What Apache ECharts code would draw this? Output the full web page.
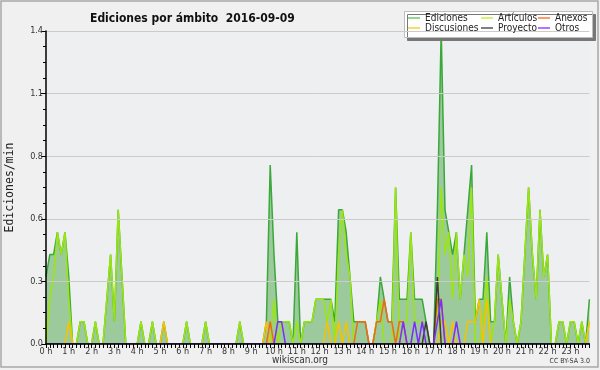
<!DOCTYPE html>
<html><head><meta charset="utf-8">
<script src="https://cdn.jsdelivr.net/npm/echarts@6/dist/echarts.min.js"></script>
<style>html,body{margin:0;padding:0;background:#f0f0f0}#c{width:600px;height:370px}</style>
</head><body><div id="c"></div>
<script>
// 10-minute bins, 6 per hour
const hourLabels = ['0 h','1 h','2 h','3 h','4 h','5 h','6 h','7 h','8 h','9 h','10 h','11 h',
  '12 h','13 h','14 h','15 h','16 h','17 h','18 h','19 h','20 h','21 h','22 h','23 h'];
const yTicks = [0, 0.28, 0.56, 0.84, 1.12, 1.4];

const ediciones = [
  0.3,0.4,0.4,0.5,0.4,0.5,  0.3,0,0,0.1,0.1,0,  0,0.1,0,0,0.2,0.4,  0.1,0.6,0.3,0,0,0,
  0,0.1,0,0,0.1,0,  0,0.1,0,0,0,0,  0,0.1,0,0,0,0,  0.1,0,0,0,0,0,
  0,0,0,0.1,0,0,  0,0,0,0,0.1,0.8,  0.4,0.1,0.1,0.1,0.1,0,  0.5,0,0.1,0.1,0.1,0.2,
  0.2,0.2,0.2,0.2,0.1,0.6,  0.6,0.5,0.3,0.1,0.1,0.1,  0.1,0,0,0.1,0.3,0.2,  0.1,0.1,0.7,0.2,0.2,0.2,
  0.5,0.2,0.2,0.2,0.1,0,  0,0.6,1.4,0.6,0.5,0.4,  0.5,0.2,0.4,0.6,0.8,0.1,  0.2,0.2,0.5,0.1,0.1,0.4,
  0.2,0,0.3,0.1,0,0.1,  0.4,0.7,0.4,0.2,0.6,0.3,  0.4,0,0,0.1,0.1,0,  0.1,0.1,0,0.1,0,0.2
];
const articulos = [
  0,0.2,0.3,0.5,0.4,0.5,  0.2,0,0,0.1,0.1,0,  0,0.1,0,0,0.2,0.4,  0.1,0.6,0.3,0,0,0,
  0,0.1,0,0,0.1,0,  0,0,0,0,0,0,  0,0.1,0,0,0,0,  0.1,0,0,0,0,0,
  0,0,0,0.1,0,0,  0,0,0,0,0,0,  0.2,0,0.1,0.1,0.1,0,  0.1,0,0.1,0.1,0.1,0.2,
  0.2,0.2,0.1,0.2,0,0.4,  0.6,0.4,0.3,0,0,0,  0,0,0,0.1,0.2,0,  0,0,0.7,0,0.1,0.1,
  0.5,0.1,0.1,0.1,0,0,  0,0.1,0.7,0.4,0.5,0.2,  0.5,0.2,0.4,0.3,0.7,0,  0,0.1,0.3,0,0.1,0.4,
  0.2,0,0.2,0.1,0,0.1,  0.4,0.7,0.4,0.2,0.6,0.3,  0.4,0,0,0.1,0.1,0,  0.1,0.1,0,0.1,0,0.1
];
const discusiones = [
  0,0,0,0,0,0,  0.1,0,0,0,0,0,  0,0,0,0,0,0,  0,0,0,0,0,0,
  0,0,0,0,0,0,  0,0.1,0,0,0,0,  0,0,0,0,0,0,  0,0,0,0,0,0,
  0,0,0,0,0,0,  0,0,0,0,0.1,0,  0,0,0,0,0,0,  0,0,0,0,0,0,
  0,0,0.1,0,0,0.1,  0,0.1,0,0,0,0,  0,0,0,0,0,0,  0,0,0,0,0,0,
  0,0,0,0,0,0,  0,0,0.1,0.1,0,0.1,  0,0,0,0.1,0.1,0.1,  0.2,0,0.2,0,0,0,
  0,0,0,0,0,0,  0,0,0,0,0,0,  0,0,0,0,0,0,  0,0,0,0,0,0.1
];
const anexos = [
  0,0,0,0,0,0,  0,0,0,0,0,0,  0,0,0,0,0,0,  0,0,0,0,0,0,
  0,0,0,0,0,0,  0,0,0,0,0,0,  0,0,0,0,0,0,  0,0,0,0,0,0,
  0,0,0,0,0,0,  0,0,0,0,0,0.1,  0,0,0,0,0,0,  0,0,0,0,0,0,
  0,0,0,0,0,0,  0,0,0,0,0.1,0.1,  0.1,0,0,0.1,0.1,0.2,  0.1,0.1,0,0.1,0.1,0,
  0,0,0,0,0,0,  0,0.2,0.2,0,0,0,  0,0,0,0,0,0,  0,0,0,0,0,0,
  0,0,0,0,0,0,  0,0,0,0,0,0,  0,0,0,0,0,0,  0,0,0,0,0,0
];
const proyecto = [
  0,0,0,0,0,0,  0,0,0,0,0,0,  0,0,0,0,0,0,  0,0,0,0,0,0,
  0,0,0,0,0,0,  0,0,0,0,0,0,  0,0,0,0,0,0,  0,0,0,0,0,0,
  0,0,0,0,0,0,  0,0,0,0,0,0,  0,0,0,0,0,0,  0,0,0,0,0,0,
  0,0,0,0,0,0,  0,0,0,0,0,0,  0,0,0,0,0,0,  0,0,0,0,0,0,
  0,0,0,0,0.1,0,  0,0.3,0,0,0,0,  0,0,0,0,0,0,  0,0,0,0,0,0,
  0,0,0,0,0,0,  0,0,0,0,0,0,  0,0,0,0,0,0,  0,0,0,0,0,0
];
const otros = [
  0,0,0,0,0,0,  0,0,0,0,0,0,  0,0,0,0,0,0,  0,0,0,0,0,0,
  0,0,0,0,0,0,  0,0,0,0,0,0,  0,0,0,0,0,0,  0,0,0,0,0,0,
  0,0,0,0,0,0,  0,0,0,0,0,0,  0,0.1,0.1,0,0,0,  0,0,0,0,0,0,
  0,0,0,0,0,0,  0,0,0,0,0,0,  0,0,0,0,0,0,  0,0,0,0,0.1,0,
  0,0.1,0,0.1,0,0,  0,0.1,0.2,0,0,0,  0.1,0,0,0,0,0,  0,0,0,0,0,0,
  0,0,0,0,0,0,  0,0,0,0,0,0,  0,0,0,0,0,0,  0,0,0,0,0,0
];

const categories = ediciones.map((_, i) => i * 10);

const FONT = "'DejaVu Sans Condensed','Liberation Sans Narrow','DejaVu Sans',sans-serif";
const series = [
  {name:'Ediciones', data:ediciones, color:'#3aa83a', legendColor:'#6cc86c', area:true},
  {name:'Artículos', data:articulos, color:'#9be60f', legendColor:'#c4f03a'},
  {name:'Discusiones', data:discusiones, color:'#f7c200', legendColor:'#ffcc33'},
  {name:'Anexos', data:anexos, color:'#f26a10', legendColor:'#ff7a33'},
  {name:'Proyecto', data:proyecto, color:'#3c3c3c', legendColor:'#555555'},
  {name:'Otros', data:otros, color:'#7f2cff', legendColor:'#9a44ff'}
];
const legendSlots = {
  'Ediciones':[408,13], 'Artículos':[481,13], 'Anexos':[538,13],
  'Discusiones':[408,23], 'Proyecto':[481,23], 'Otros':[538,23]
};

const chart = echarts.init(document.getElementById('c'), null, {renderer:'canvas'});
chart.setOption({
  backgroundColor:'#f0f0f0',
  animation:false,
  title:{text:'Ediciones por ámbito  2016-09-09', left:85, top:8,
    textStyle:{fontFamily:FONT, fontWeight:'bold', fontSize:12, color:'#111'}},
  legend: series.map(s => ({
    data:[{name:s.name, itemStyle:{color:s.legendColor}}],
    left:legendSlots[s.name][0], top:legendSlots[s.name][1], padding:0,
    icon:'rect', itemWidth:12, itemHeight:1.5, z:10,
    textStyle:{fontFamily:FONT, fontSize:10, color:'#222'}
  })),
  graphic:[
    {type:'rect', z:5, shape:{x:404.5, y:11.5, width:188, height:26},
      style:{fill:'#ffffff', stroke:'#bdbdbd', lineWidth:1, shadowColor:'#777', shadowOffsetX:3, shadowOffsetY:3, shadowBlur:0}},
    {type:'text', left:'center', top:355, style:{text:'wikiscan.org', fontFamily:FONT, fontSize:10, fill:'#333'}},
    {type:'text', right:10, top:358, style:{text:'CC BY-SA 3.0', fontFamily:FONT, fontSize:7, fill:'#333'}},
    {type:'rect', z:-1, shape:{x:1, y:1, width:597, height:366}, style:{fill:'none', stroke:'#a8a8a8', lineWidth:1.5}}
  ],
  grid:{left:46, right:10.6, top:31, bottom:26, show:true, backgroundColor:'#eeeff1', borderWidth:0,
    containLabel:false, outerBoundsMode:'none'},
  xAxis:{type:'category', data:categories, boundaryGap:false, z:10,
    axisLine:{lineStyle:{color:'#000', width:1.5}},
    axisTick:{interval:0, length:4, lineStyle:{color:'#000'}},
    axisLabel:{interval:5, margin:3, fontFamily:FONT, fontSize:9, color:'#333',
      formatter:(v, idx) => hourLabels[idx / 6] || ''},
    splitLine:{show:false}},
  yAxis:{type:'value', min:yTicks[0], max:yTicks[yTicks.length-1], interval:yTicks[1], z:10,
    name:'Ediciones/min', nameLocation:'middle', nameGap:30, nameRotate:90,
    nameTextStyle:{fontFamily:"'DejaVu Sans Mono',monospace", fontSize:11.5, color:'#222'},
    axisLine:{show:true, lineStyle:{color:'#000', width:1.5}},
    axisTick:{show:true, length:5, lineStyle:{color:'#000'}},
    minorTick:{show:true, splitNumber:4, length:3, lineStyle:{color:'#000'}},
    axisLabel:{margin:3, fontFamily:FONT, fontSize:9, color:'#333', formatter:v => v.toFixed(1)},
    splitLine:{show:true, lineStyle:{color:'#cbcbcb', width:1}}},
  series: series.map((s, k) => ({
    name:s.name, type:'line', data:s.data, symbol:'none', z:2 + k,
    lineStyle:{color:s.color, width:1.5}, itemStyle:{color:s.color},
    areaStyle: s.area ? {color:'#9cca9c', opacity:1} : undefined
  }))
});
</script></body></html>
